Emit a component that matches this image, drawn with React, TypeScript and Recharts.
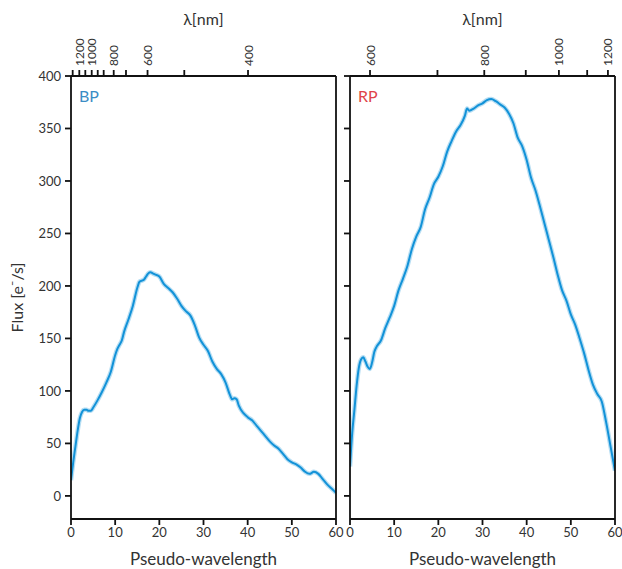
import React from 'react';
import { LineChart, Line, XAxis, YAxis } from 'recharts';

// pseudo-wavelength samples and fluxes
const BP_X = [0, 0.5, 1, 1.5, 2, 2.5, 3, 3.5, 4, 4.5, 5, 6, 7, 8, 9, 10, 10.5, 11, 11.5, 12, 13, 14, 15, 15.5, 16, 16.5, 17, 17.5, 18, 18.5, 19, 20, 21, 22, 23, 24, 25, 26, 27, 28, 29, 30, 31, 32, 33, 34, 35, 36, 36.5, 37, 37.5, 38, 39, 40, 41, 42, 43, 44, 45, 46, 47, 48, 49, 50, 51, 52, 53, 54, 55, 56, 57, 58, 59, 60];
const BP_FLUX = [15, 32, 47, 62, 74, 80, 82, 82, 81, 81, 84, 91, 99, 108, 118, 134, 140, 144, 148, 156, 168, 181, 198, 204, 205, 206, 209, 212, 213, 212, 211, 209, 202, 198, 194, 188, 181, 176, 172, 163, 151, 144, 138, 128, 121, 116, 108, 96, 92, 93, 92, 86, 79, 75, 72, 67, 62, 57, 52, 48, 45, 40, 35, 32, 30, 27, 23, 21, 23, 21, 16, 11, 7, 3];

const RP_X = [0, 0.5, 1, 1.5, 2, 2.5, 3, 3.5, 4, 4.5, 5, 5.5, 6, 7, 8, 9, 10, 11, 12, 13, 14, 15, 16, 17, 18, 19, 20, 21, 22, 23, 24, 25, 26, 26.5, 27, 28, 29, 30, 31, 32, 33, 34, 35, 36, 37, 38, 39, 40, 41, 42, 43, 44, 45, 46, 47, 48, 49, 50, 51, 52, 53, 54, 55, 56, 57, 58, 59, 60];
const RP_FLUX = [28, 60, 82, 105, 122, 130, 132, 128, 123, 121, 127, 137, 142, 148, 160, 170, 181, 196, 207, 219, 235, 247, 256, 273, 284, 297, 304, 314, 328, 338, 347, 353, 362, 369, 367, 369, 372, 374, 377, 378, 376, 373, 370, 364, 355, 341, 333, 320, 303, 291, 276, 260, 244, 228, 211, 196, 186, 173, 163, 150, 136, 120, 106, 97, 90, 70, 47, 24];

const X_TICKS = [0, 10, 20, 30, 40, 50, 60];
const Y_TICKS = [0, 50, 100, 150, 200, 250, 300, 350, 400];

// wavelength ticks on the top axes, placed in pseudo-wavelength units
const BP_TOP_TICKS = [0.38, 1.88, 3.24, 4.69, 6.05, 7.4, 9.67, 12.45, 17.33, 25.65, 40.08];
const BP_TOP_LABELS = ['', '1200', '', '1000', '', '', '800', '', '600', '', '400'];
const RP_TOP_TICKS = [4.53, 19.8, 30.4, 39.8, 47.3, 53.7, 58.4];
const RP_TOP_LABELS = ['600', '', '800', '', '1000', '', '1200'];

const FONT = 'Lato, "Open Sans", sans-serif';
const INK = '#111';
const TEXT = '#333';
const CURVE = '#1292d8';

const bpData = BP_X.map((x, i) => ({ x, flux: BP_FLUX[i] }));
const rpData = RP_X.map((x, i) => ({ x, flux: RP_FLUX[i] }));

const makeTopTick = (ticks: number[], labels: string[]) => (props: any) => {
  const { x, y, payload } = props;
  const idx = ticks.indexOf(payload.value);
  const lab = idx >= 0 ? labels[idx] : '';
  if (!lab) return <g />;
  return (
    <text
      x={x}
      y={y}
      transform={`rotate(-90, ${x}, ${y})`}
      textAnchor="start"
      dominantBaseline="central"
      fontSize={12}
      fontFamily={FONT}
      fill={TEXT}
    >
      {lab}
    </text>
  );
};

// the right panel keeps its y tick marks but shows no numbers
const emptyTick = () => <g />;

const tickStyle = { fontSize: 13, fill: TEXT, fontFamily: FONT };
const lineStyle = { stroke: INK, strokeWidth: 1.8 };

interface PanelProps {
  data: { x: number; flux: number }[];
  topTicks: number[];
  topLabels: string[];
  first: boolean;
  width: number;
  leftWidth: number;
  rightWidth: number;
}

const Panel: React.FC<PanelProps> = ({ data, topTicks, topLabels, first, width, leftWidth, rightWidth }) => (
  <LineChart width={width} height={569} data={data} margin={{ top: 0, right: 0, bottom: 0, left: 0 }}>
    <XAxis
      xAxisId="top"
      dataKey="x"
      orientation="top"
      type="number"
      domain={[0, 60]}
      allowDataOverflow
      ticks={topTicks}
      interval={0}
      height={76}
      tickSize={6}
      tickMargin={4}
      axisLine={lineStyle}
      tickLine={lineStyle}
      tick={makeTopTick(topTicks, topLabels)}
      label={{ value: 'λ[nm]', position: 'insideTop', offset: 14, fontSize: 16, fill: TEXT, fontFamily: FONT }}
    />
    <XAxis
      dataKey="x"
      type="number"
      domain={[0, 60]}
      allowDataOverflow
      ticks={X_TICKS}
      interval={0}
      height={50}
      tickSize={6}
      tickMargin={3}
      axisLine={lineStyle}
      tickLine={lineStyle}
      tick={tickStyle}
      label={{ value: 'Pseudo-wavelength', position: 'insideBottom', offset: 4, fontSize: 17, fill: TEXT, fontFamily: FONT }}
    />
    <YAxis
      type="number"
      domain={[-22, 400]}
      allowDataOverflow
      ticks={Y_TICKS}
      interval={0}
      width={leftWidth}
      tickSize={6}
      tickMargin={4}
      axisLine={lineStyle}
      tickLine={lineStyle}
      tick={first ? tickStyle : emptyTick}
      label={
        first
          ? { value: 'Flux [e⁻/s]', angle: -90, position: 'insideLeft', offset: 17, fontSize: 16, fill: TEXT, fontFamily: FONT, style: { textAnchor: 'middle' } }
          : undefined
      }
    />
    <YAxis
      yAxisId="r"
      orientation="right"
      type="number"
      domain={[-22, 400]}
      width={rightWidth}
      axisLine={lineStyle}
      tickLine={false}
      tick={false}
    />
    <Line
      dataKey="flux"
      type="monotone"
      stroke={CURVE}
      strokeOpacity={0.3}
      strokeWidth={4.5}
      dot={false}
      isAnimationActive={false}
    />
    <Line
      dataKey="flux"
      type="monotone"
      stroke={CURVE}
      strokeWidth={2}
      dot={false}
      isAnimationActive={false}
    />
  </LineChart>
);

export default function App() {
  return (
    <div style={{ position: 'absolute', left: 0, top: 0, width: 622, height: 569, background: '#fff' }}>
      <div style={{ position: 'absolute', left: 0, top: 0 }}>
        <Panel data={bpData} topTicks={BP_TOP_TICKS} topLabels={BP_TOP_LABELS} first width={346} leftWidth={71} rightWidth={10} />
      </div>
      <div style={{ position: 'absolute', left: 340, top: 0 }}>
        <Panel data={rpData} topTicks={RP_TOP_TICKS} topLabels={RP_TOP_LABELS} first={false} width={282} leftWidth={10} rightWidth={7} />
      </div>
      <div style={{ position: 'absolute', left: 79, top: 86, fontFamily: FONT, fontSize: 16, color: '#3b8dc5' }}>BP</div>
      <div style={{ position: 'absolute', left: 358, top: 86, fontFamily: FONT, fontSize: 16, color: '#e0434a' }}>RP</div>
    </div>
  );
}
